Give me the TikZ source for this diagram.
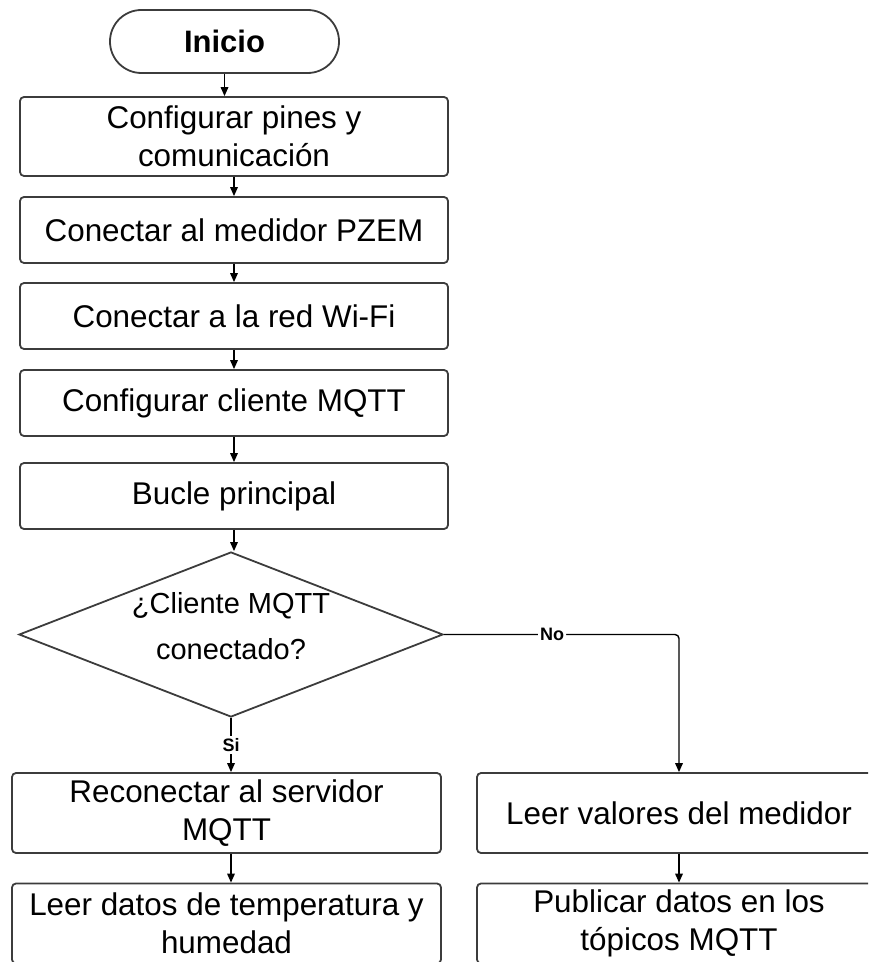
\documentclass[tikz,border=0pt]{standalone}
\usepackage{fontspec}
\setmainfont{Liberation Sans}
\usetikzlibrary{arrows.meta,shapes.geometric}
\definecolor{edgegray}{HTML}{3C3C3C}
\tikzset{
  box/.style={draw=edgegray, line width=0.9pt, rounded corners=2pt, align=center, minimum width=214pt,
              minimum height=33pt, inner sep=2pt, font=\fontsize{15.7}{19}\selectfont},
  tallbox/.style={box, minimum height=39.5pt},
  lowbox/.style={tallbox, minimum width=214.5pt, minimum height=40pt},
  rightbox/.style={tallbox, minimum width=202pt, minimum height=40pt},
  startbox/.style={draw=edgegray, line width=0.9pt, rounded corners=15.7pt, minimum width=114.5pt,
                   minimum height=31.5pt, font=\fontsize{15.5}{19}\selectfont\bfseries},
  decision/.style={draw=edgegray, line width=0.9pt, diamond, aspect=2.56, minimum width=212pt,
                   minimum height=82.5pt, inner sep=0pt},
  dtext/.style={align=center, font=\fontsize{14.5}{23}\selectfont},
  arr/.style={-{Triangle[length=4.5pt,width=3.8pt]}, line width=0.7pt},
  lab/.style={font=\fontsize{9}{10}\selectfont\bfseries, fill=white, inner sep=1pt},
}
\begin{document}
\begin{tikzpicture}[x=0.5pt,y=-0.5pt]
        \useasboundingbox (0,0) rectangle (868,962);
        \clip (0,0) rectangle (868,962);
        \node[startbox] (start) at (224.5,41.5) {Inicio};
        \node[tallbox] (pins) at (234,136.5) {Configurar pines y\\comunicación};
        \node[box] (pzem) at (234,230) {Conectar al medidor PZEM};
        \node[box] (wifi) at (234,316) {Conectar a la red Wi-Fi};
        \node[box] (mqtt) at (234,403) {Configurar cliente MQTT};
        \node[box] (loop) at (234,496) {Bucle principal};
        \node[decision, label={[dtext, yshift=4pt]center:{¿Cliente MQTT\\conectado?}}] (conn) at (231,634.5) {};
        \node[lowbox] (recon) at (226.5,813) {Reconectar al servidor\\MQTT};
        \node[lowbox] (temp) at (226.5,923.5) {Leer datos de temperatura y\\humedad};
        \node[rightbox] (read) at (679,813) {Leer valores del medidor};
        \node[rightbox] (pub) at (679,923.5) {Publicar datos en los\\tópicos MQTT};
        \draw[arr] (start) -- (start |- pins.north);
        \draw[arr] (pins) -- (pzem); \draw[arr] (pzem) -- (wifi); \draw[arr] (wifi) -- (mqtt); \draw[arr] (mqtt) -- (loop);
        \draw[arr] (loop.south) -- (loop.south |- conn.north);
        \draw[arr] (conn.south) -- node[lab]{Si} (conn.south |- recon.north);
        \draw[arr, rounded corners=2pt] (conn.east) -- node[lab, pos=0.46]{No} (conn.east -| read.north) -- (read.north);
        \draw[arr] (conn.south |- recon.south) -- (conn.south |- temp.north);
        \draw[arr] (read) -- (pub);
      \end{tikzpicture}
\end{document}
